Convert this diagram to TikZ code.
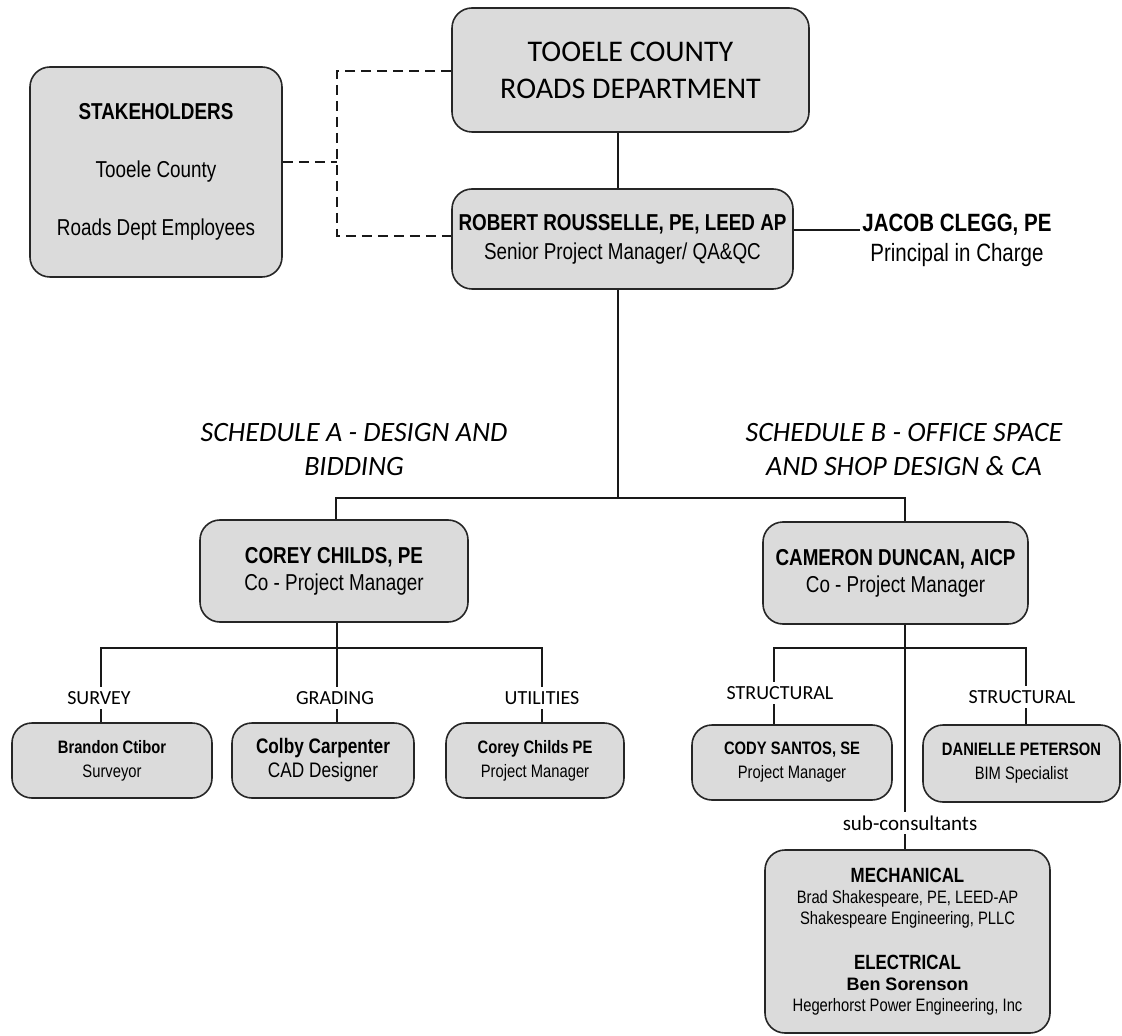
\documentclass[tikz,border=0pt]{standalone}
\usepackage{fontspec}
\setmainfont{Carlito}
\newfontfamily\nar[FakeStretch=0.82]{Liberation Sans}
\newfontfamily\ars{Liberation Sans}
\newcommand\setfs[2]{\fontsize{#1}{#2}\selectfont}
\begin{document}
\begin{tikzpicture}[x=0.5pt,y=-0.5pt,
  box/.style={draw=black!85, line width=0.8pt, rounded corners=10pt, fill=black!14, align=center, inner sep=2pt},
  conn/.style={line width=1pt, draw=black!90},
  dl/.style={line width=1pt, draw=black!90, dash pattern=on 5pt off 3pt},
  lab/.style={fill=white, inner sep=2pt, font=\setfs{10}{12}},
  sched/.style={align=center, font=\itshape\setfs{14}{17}}]
\fill[white] (0,0) rectangle (1122,1036);
\useasboundingbox (0,0) rectangle (1122,1036);

% boxes
\node[box, minimum width=178.5pt, minimum height=62pt, font=\setfs{15}{18.5}] (tooele) at (630.5,70) {TOOELE COUNTY\\ROADS DEPARTMENT};
\node[box, minimum width=126pt, minimum height=105pt, font=\nar\setfs{11.5}{29}] (stake) at (156,172) {\textbf{STAKEHOLDERS}\\Tooele County\\Roads Dept Employees};
\node[box, minimum width=170.5pt, minimum height=50pt, font=\nar\setfs{11.5}{14.5}] (robert) at (622.5,239) {\textbf{ROBERT ROUSSELLE, PE, LEED AP}\\Senior Project Manager/ QA\&QC};
\node[align=center, anchor=west, inner sep=0.5pt, font=\nar\setfs{12.5}{15}] (jacob) at (861,240) {\textbf{JACOB CLEGG, PE}\\Principal in Charge};
\node[sched] (scha) at (354,450) {SCHEDULE A - DESIGN AND\\BIDDING};
\node[sched] (schb) at (904,450) {SCHEDULE B - OFFICE SPACE\\AND SHOP DESIGN \& CA};
\node[box, minimum width=134pt, minimum height=51pt, font=\nar\setfs{11.5}{13.5}] (corey) at (334,571) {\textbf{COREY CHILDS, PE}\\Co - Project Manager};
\node[box, minimum width=132.5pt, minimum height=51pt, font=\nar\setfs{11.5}{13.5}] (cameron) at (895.5,573) {\textbf{CAMERON DUNCAN, AICP}\\Co - Project Manager};
\node[box, minimum width=100pt, minimum height=37.5pt, font=\nar\setfs{9}{12}] (brandon) at (112,760.5) {\textbf{Brandon Ctibor}\\Surveyor};
\node[box, minimum width=91pt, minimum height=37.5pt, font=\nar\setfs{10.5}{12}] (colby) at (323,760.5) {\textbf{Colby Carpenter}\\CAD Designer};
\node[box, minimum width=89pt, minimum height=37.5pt, font=\nar\setfs{9}{12}] (childs) at (535,760.5) {\textbf{Corey Childs PE}\\Project Manager};
\node[box, minimum width=100pt, minimum height=37.5pt, font=\nar\setfs{9}{12}] (cody) at (792,762.5) {\textbf{CODY SANTOS, SE}\\Project Manager};
\node[box, minimum width=98.5pt, minimum height=38.5pt, font=\nar\setfs{9}{12}] (dan) at (1021.5,763.5) {\textbf{DANIELLE PETERSON}\\BIM Specialist};
\node[box, minimum width=142.5pt, minimum height=91.5pt, font=\nar\setfs{9}{10.5}] (sub) at (907.5,941.5) {{\bfseries\setfs{10.3}{11}MECHANICAL}\\Brad Shakespeare, PE, LEED-AP\\Shakespeare Engineering, PLLC\\[12pt]{\bfseries\setfs{10.3}{11}ELECTRICAL}\\{\ars\bfseries Ben Sorenson}\\Hegerhorst Power Engineering, Inc};

% coordinates
\coordinate (dj) at (337,162);
\coordinate (dtop) at (337,71);
\coordinate (dbot) at (337,236);
\coordinate (c1) at (618,0);
\coordinate (jl) at (860,230);
\coordinate (b1) at (618,498);
\coordinate (xa) at (336,0);
\coordinate (xb) at (905,0);
\coordinate (h1) at (337,648);
\coordinate (sx) at (101,0);
\coordinate (ux) at (542,0);
\coordinate (h2) at (905,648);
\coordinate (tx1) at (774,0);
\coordinate (tx2) at (1026,0);

% connectors
\draw[dl] (stake.east |- dj) -- (dj);
\draw[dl] (tooele.west |- dtop) -- (dtop) -- (dbot) -- (robert.west |- dbot);
\draw[conn] (tooele.south -| c1) -- (robert.north -| c1);
\draw[conn] (robert.east |- jl) -- (jl);
\draw[conn] (robert.south -| c1) -- (b1);
\draw[conn] (corey.north -| xa) |- (b1) -| (cameron.north -| xb);
\draw[conn] (corey.south -| h1) -- (h1);
\draw[conn] (brandon.north -| sx) |- (h1) -| (childs.north -| ux);
\draw[conn] (h1) -- (colby.north -| h1);
\draw[conn] (cameron.south -| h2) -- (sub.north -| h2);
\draw[conn] (cody.north -| tx1) |- (h2) -| (dan.north -| tx2);

% labels
\node[lab] (lsur) at (99,698) {SURVEY};
\node[lab] (lgra) at (335,698) {GRADING};
\node[lab] (luti) at (542,698) {UTILITIES};
\node[lab] (lst1) at (780,693) {STRUCTURAL};
\node[lab] (lst2) at (1022,697) {STRUCTURAL};
\node[lab, font=\setfs{10.5}{12}] (lsub) at (910,823) {sub-consultants};
\end{tikzpicture}
\end{document}
